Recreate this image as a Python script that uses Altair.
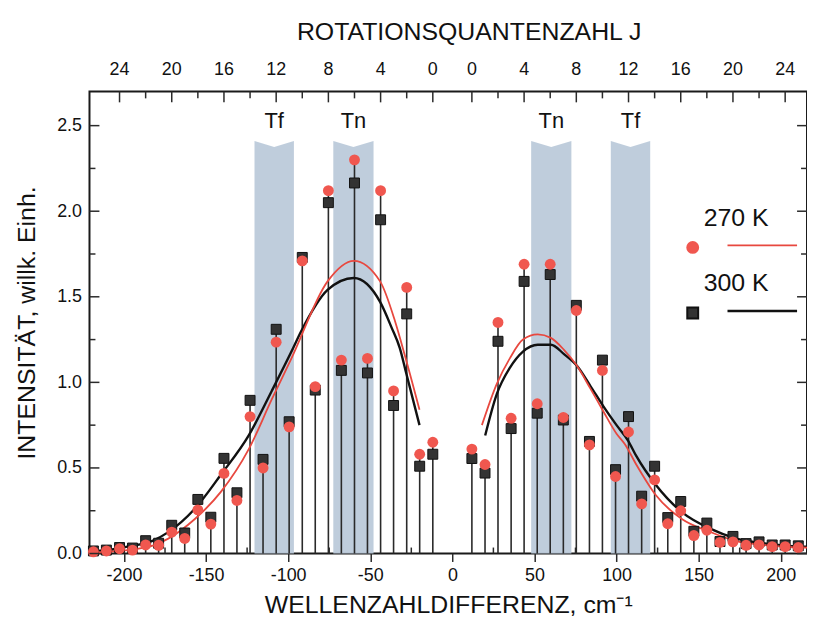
import altair as alt
import pandas as pd

# ---------------- data ----------------
J = list(range(27))
# Raman shift (cm^-1) of rotational line J (read from stem positions)
shift = [11.9, 19.9, 27.8, 35.8, 43.7, 51.7, 59.6, 67.6, 75.5, 83.5, 91.4, 99.4,
         107.3, 115.3, 123.2, 131.2, 139.1, 147.1, 155.0, 163.0, 170.9, 178.9,
         186.8, 194.8, 202.7, 210.7, 218.6]

# anti-Stokes (left, negative shift), J = 0..26
left_300 = [0.58, 0.51, 1.40, 0.865, 1.95, 1.055, 2.165, 1.07, 2.05, 0.955, 1.73, 0.77,
            1.31, 0.55, 0.895, 0.355, 0.556, 0.212, 0.316, 0.12, 0.165, 0.06, 0.075,
            0.032, 0.035, 0.02, 0.015]
left_270 = [0.65, 0.58, 1.555, 0.95, 2.12, 1.14, 2.30, 1.13, 2.12, 0.975, 1.71, 0.74,
            1.235, 0.50, 0.80, 0.31, 0.468, 0.172, 0.255, 0.088, 0.125, 0.048, 0.05,
            0.02, 0.028, 0.015, 0.01]
# Stokes (right, positive shift), J = 0..25
right_300 = [0.555, 0.47, 1.24, 0.73, 1.59, 0.82, 1.63, 0.78, 1.45, 0.655, 1.13, 0.49,
             0.80, 0.335, 0.51, 0.21, 0.304, 0.13, 0.178, 0.07, 0.10, 0.058, 0.068,
             0.05, 0.05, 0.045]
right_270 = [0.61, 0.52, 1.35, 0.79, 1.69, 0.875, 1.69, 0.795, 1.42, 0.635, 1.07, 0.45,
             0.71, 0.29, 0.43, 0.174, 0.25, 0.105, 0.136, 0.065, 0.068, 0.048, 0.05,
             0.04, 0.04, 0.035]

# envelope curves
c300_left_x = [-221, -210, -198, -182, -173, -157, -141, -124, -110, -98, -92, -76, -60, -44, -37, -32, -28, -20]
c300_left_y = [0.015, 0.02, 0.04, 0.077, 0.125, 0.26, 0.46, 0.69, 0.95, 1.18, 1.30, 1.54, 1.61, 1.47, 1.32, 1.20, 1.05, 0.75]
c270_left_x = [-221, -210, -198, -182, -173, -157, -141, -124, -110, -98, -76, -60, -44, -35, -29, -20]
c270_left_y = [0.005, 0.01, 0.02, 0.048, 0.087, 0.20, 0.36, 0.61, 0.90, 1.14, 1.59, 1.71, 1.59, 1.36, 1.16, 0.84]
c300_right_x = [20, 27, 35, 43, 52, 60, 68, 76, 84, 92, 100, 107, 112, 124, 140, 157, 173, 189, 205, 216]
c300_right_y = [0.69, 0.93, 1.085, 1.18, 1.22, 1.22, 1.165, 1.095, 0.98, 0.86, 0.75, 0.66, 0.57, 0.40, 0.24, 0.145, 0.087, 0.06, 0.045, 0.04]
c270_right_x = [18, 27, 35, 43, 52, 60, 68, 76, 84, 92, 100, 105, 112, 124, 140, 157, 173, 189, 205, 216]
c270_right_y = [0.75, 0.99, 1.14, 1.25, 1.28, 1.26, 1.19, 1.095, 0.965, 0.83, 0.70, 0.64, 0.52, 0.34, 0.20, 0.126, 0.072, 0.05, 0.038, 0.035]

# shaded bands
band_names = ["Tf", "Tn", "Tn", "Tf"]
band_x1 = [-120.5, -72.5, 48.0, 96.5]
band_x2 = [-96.5, -48.0, 72.5, 120.5]

series_names = ["270 K", "300 K"]
x_ticks = [-200, -150, -100, -50, 0, 50, 100, 150, 200]
y_ticks = [0.0, 0.5, 1.0, 1.5, 2.0, 2.5]
y_minor = [0.25, 0.75, 1.25, 1.75, 2.25]
x_minor = [-175, -125, -75, -25, 25, 75, 125, 175]
j_label_values = [0, 4, 8, 12, 16, 20, 24]

# ---------------- styling ----------------
RED = "#f0574f"
RED_LINE = "#e8483f"
DARK = "#2a2a2a"
BAND = "#bccada"
FONT = "Liberation Sans"
W, H = 722, 465

# ---------------- tables ----------------
rows = []
for j in J:
    rows.append({"x": -shift[j], "I300": left_300[j], "I270": left_270[j], "J": j})
for j in range(len(right_300)):
    rows.append({"x": shift[j], "I300": right_300[j], "I270": right_270[j], "J": j})
pts = pd.DataFrame(rows)
pts["top"] = pts[["I300", "I270"]].max(axis=1)

curves = []
for xs, ys, s, side in [(c300_left_x, c300_left_y, "300 K", "L"), (c300_right_x, c300_right_y, "300 K", "R"),
                        (c270_left_x, c270_left_y, "270 K", "L"), (c270_right_x, c270_right_y, "270 K", "R")]:
    for a, b in zip(xs, ys):
        curves.append({"x": a, "y": b, "series": s, "side": side})
curves = pd.DataFrame(curves)

band_top, band_notch = 2.41, 2.375
brows = []
for i, (n, a, b) in enumerate(zip(band_names, band_x1, band_x2)):
    brows += [{"band": i, "x": a, "y": band_top}, {"band": i, "x": (a + b) / 2, "y": band_notch},
              {"band": i, "x": b, "y": band_top}]
bands = pd.DataFrame(brows)
blabels = pd.DataFrame({"name": band_names, "xc": [(a + b) / 2 for a, b in zip(band_x1, band_x2)]})

jpos = []
for j in range(0, 25, 2):
    for sgn in (-1, 1):
        jpos.append({"x": sgn * shift[j], "major": j % 4 == 0})
jpos = pd.DataFrame(jpos)
jlab = pd.DataFrame([{"x": s * shift[j], "label": str(j)} for j in j_label_values for s in (-1, 1)])

xscale = alt.Scale(domain=[-221, 216], nice=False, zero=False)
yscale = alt.Scale(domain=[0, 2.7], nice=False, zero=False)
NOX = alt.X("x:Q", scale=xscale, axis=None)
NOY = lambda f: alt.Y(f, scale=yscale, axis=None)

bands_layer = alt.Chart(bands).mark_area(color=BAND, opacity=0.95).encode(
    x=NOX, y=NOY("y:Q"), y2=alt.datum(0), detail="band:N")

stems = alt.Chart(pts).mark_rule(color=DARK, strokeWidth=1.6).encode(
    x=alt.X("x:Q", scale=xscale, axis=alt.Axis(
        orient="bottom", values=x_ticks, grid=False, domain=False, tickSize=8, tickColor=DARK,
        tickWidth=1.5, labelExpr="datum.value < 0 ? '-' + abs(datum.value) : '' + datum.value",
        labelFontSize=18, labelPadding=5, labelColor="#111",
        title="WELLENZAHLDIFFERENZ, cm⁻¹", titleFontSize=25, titlePadding=8)),
    y=alt.Y("top:Q", scale=yscale, axis=alt.Axis(
        orient="left", values=y_ticks, format=".1f", grid=False, domain=False, ticks=False,
        labelFontSize=18, labelPadding=8, labelColor="#111",
        title="INTENSITÄT, willk. Einh.", titleFontSize=25, titlePadding=17)),
    y2=alt.datum(0))

curve_300 = alt.Chart(curves).transform_filter("datum.series == '300 K'").mark_line(
    color="#111", strokeWidth=2.4, interpolate="monotone").encode(
    x=NOX, y=NOY("y:Q"), detail="side:N")
curve_270 = alt.Chart(curves).transform_filter("datum.series == '270 K'").mark_line(
    color=RED_LINE, strokeWidth=1.8, interpolate="monotone").encode(
    x=NOX, y=NOY("y:Q"), detail="side:N")

squares = alt.Chart(pts).mark_point(shape="square", filled=True, size=100, color="#333333",
                                    stroke="#111", strokeWidth=1, opacity=1).encode(
    x=NOX, y=NOY("I300:Q"))
circles = alt.Chart(pts).mark_point(shape="circle", filled=True, size=120, color=RED, opacity=1).encode(
    x=NOX, y=NOY("I270:Q"))

band_text = alt.Chart(blabels).mark_text(font=FONT, fontSize=22, color="#111", baseline="middle").encode(
    x=alt.X("xc:Q", scale=xscale, axis=None), y=alt.value(30), text="name:N")

# top (J) axis: labels, title and inward ticks
top_labels = alt.Chart(jlab).mark_text(font=FONT, fontSize=18, color="#111", baseline="middle").encode(
    x=NOX, y=alt.value(-22), text="label:N")
top_title = alt.Chart(pd.DataFrame({"t": ["ROTATIONSQUANTENZAHL J"]})).mark_text(
    font=FONT, fontSize=25, color="#111", baseline="middle").encode(
    x=alt.value(382), y=alt.value(-60), text="t:N")
top_major = alt.Chart(jpos).transform_filter("datum.major").mark_rule(color=DARK, strokeWidth=1.5).encode(
    x=NOX, y=alt.value(0), y2=alt.value(11))
top_minor = alt.Chart(jpos).transform_filter("!datum.major").mark_rule(color=DARK, strokeWidth=1.5).encode(
    x=NOX, y=alt.value(0), y2=alt.value(7))

ymaj = pd.DataFrame({"y": y_ticks})
ymin = pd.DataFrame({"y": y_minor})
xmin = pd.DataFrame({"x": x_minor})
left_major = alt.Chart(ymaj).mark_rule(color=DARK, strokeWidth=1.5).encode(
    y=NOY("y:Q"), x=alt.value(0), x2=alt.value(10))
left_minor = alt.Chart(ymin).mark_rule(color=DARK, strokeWidth=1.5).encode(
    y=NOY("y:Q"), x=alt.value(0), x2=alt.value(6))
right_major = alt.Chart(ymaj).mark_rule(color=DARK, strokeWidth=1.5).encode(
    y=NOY("y:Q"), x=alt.value(W - 10), x2=alt.value(W))
right_minor = alt.Chart(ymin).mark_rule(color=DARK, strokeWidth=1.5).encode(
    y=NOY("y:Q"), x=alt.value(W - 6), x2=alt.value(W))
bottom_minor = alt.Chart(xmin).mark_rule(color=DARK, strokeWidth=1.5).encode(
    x=NOX, y=alt.value(H - 6), y2=alt.value(H))

# legend (label above, symbol + line below)
leg = pd.DataFrame({"name": series_names})
legend_layers = []
for name, ty, sy, col, lcol, shp, sw in [("270 K", 127, 157, RED, RED_LINE, "circle", 1.8),
                                         ("300 K", 193, 223, "#333333", "#111", "square", 2.4)]:
    d = leg[leg["name"] == name]
    legend_layers.append(alt.Chart(d).mark_text(font=FONT, fontSize=25, align="left", baseline="middle",
                                                color="#111").encode(
        x=alt.value(618), y=alt.value(ty), text="name:N"))
    legend_layers.append(alt.Chart(d).mark_point(shape=shp, filled=True, size=120, color=col, opacity=1,
                                                 stroke="#111" if shp == "square" else col).encode(
        x=alt.value(607), y=alt.value(sy)))
    legend_layers.append(alt.Chart(d).mark_rule(color=lcol, strokeWidth=sw).encode(
        x=alt.value(642), x2=alt.value(712), y=alt.value(sy - 2)))

chart = alt.layer(
    bands_layer, stems, curve_300, curve_270, squares, circles, band_text,
    top_labels, top_title, top_major, top_minor, left_major, left_minor, right_major, right_minor,
    bottom_minor, *legend_layers
).resolve_axis(x="independent", y="independent").properties(
    width=W, height=H,
    autosize=alt.AutoSizeParams(type="none"),
    padding={"left": 82, "top": 82, "right": 0, "bottom": 70},
).configure_view(stroke="#1a1a1a", strokeWidth=2).configure_axis(
    labelFont=FONT, titleFont=FONT, titleFontWeight="normal", titleColor="#111"
)

chart.save("out.html", embed_options={"renderer": "svg", "actions": False})
